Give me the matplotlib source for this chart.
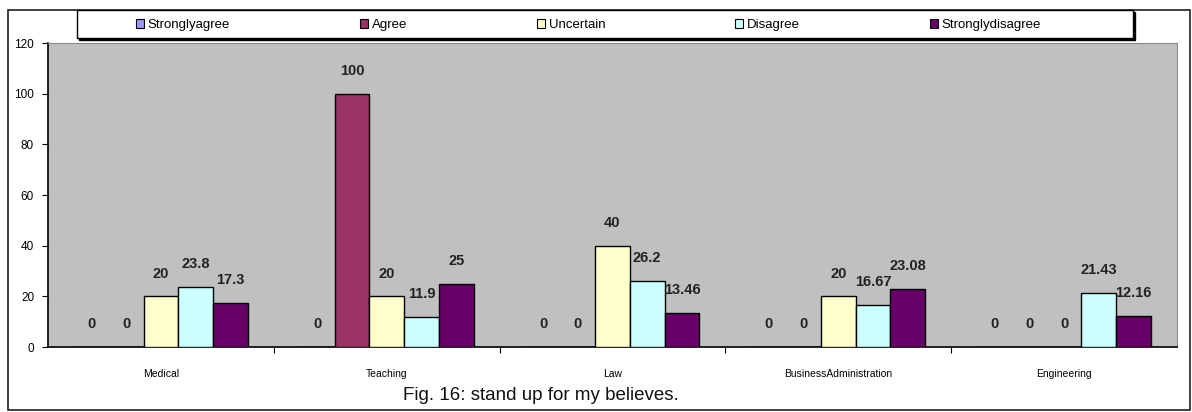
import matplotlib
matplotlib.use('Agg')
import matplotlib.pyplot as plt
from matplotlib.patches import Rectangle, Patch
import numpy as np

# data
categories = ['Medical', 'Teaching', 'Law', 'BusinessAdministration', 'Engineering']
series_names = ['Stronglyagree', 'Agree', 'Uncertain', 'Disagree', 'Stronglydisagree']
strongly_agree = [0, 0, 0, 0, 0]
agree = [0, 100, 0, 0, 0]
uncertain = [20, 20, 40, 20, 0]
disagree = [23.8, 11.9, 26.2, 16.67, 21.43]
strongly_disagree = [17.3, 25, 13.46, 23.08, 12.16]
label_text = [
    ['0', '0', '0', '0', '0'],
    ['0', '100', '0', '0', '0'],
    ['20', '20', '40', '20', '0'],
    ['23.8', '11.9', '26.2', '16.67', '21.43'],
    ['17.3', '25', '13.46', '23.08', '12.16'],
]
colors = ['#9999FF', '#993366', '#FFFFCC', '#CCFFFF', '#660066']

plt.rcParams['font.family'] = ['Liberation Sans', 'DejaVu Sans']

fig = plt.figure(figsize=(11.92, 4.12), dpi=100)
fig.patch.set_facecolor('white')

# outer chart border
fig.patches.append(Rectangle((8 / 1192, 2 / 412), 1182 / 1192, 400 / 412,
                             transform=fig.transFigure, fill=False,
                             edgecolor='#202020', linewidth=1.2))

ax = fig.add_axes([48 / 1192, 65 / 412, 1129 / 1192, 304 / 412])
ax.set_facecolor('#C0C0C0')

values = [strongly_agree, agree, uncertain, disagree, strongly_disagree]
n_cat = len(categories)
n_ser = len(values)
x = np.arange(n_cat)
bw = 1.0 / (n_ser + 1.5)

for i, vals in enumerate(values):
    pos = x - 0.5 + 0.75 * bw + (i + 0.5) * bw
    ax.bar(pos, vals, width=bw, color=colors[i], edgecolor='black',
           linewidth=1.0, zorder=3)
    for j, v in enumerate(vals):
        ax.text(pos[j], v + 9, label_text[i][j], ha='center', va='center',
                fontsize=10.5, fontweight='bold', color='#222222', zorder=4)

ax.set_xlim(-0.5, n_cat - 0.5)
ax.set_ylim(0, 120)
ax.set_yticks(np.arange(0, 121, 20))
ax.tick_params(axis='y', labelsize=8.5, length=4, direction='out', pad=6)
ax.set_xticks(x[:-1] + 0.5)
ax.set_xticklabels([])
ax.set_xticks(x, minor=True)
ax.set_xticklabels(categories, minor=True, fontsize=7.5)
ax.tick_params(axis='x', which='major', length=4, direction='out')
ax.tick_params(axis='x', which='minor', length=0, pad=16)

for s in ['top', 'right']:
    ax.spines[s].set_color('#8A8A8A')
ax.spines['left'].set_color('black')
ax.spines['bottom'].set_color('black')
ax.spines['left'].set_linewidth(1.2)
ax.spines['bottom'].set_linewidth(1.2)

# legend box with dark shadow
fig.patches.append(Rectangle((79 / 1192, (412 - 40) / 412), 1056 / 1192, 28 / 412,
                             transform=fig.transFigure, facecolor='black',
                             edgecolor='black'))
fig.patches.append(Rectangle((77 / 1192, (412 - 38) / 412), 1056 / 1192, 28 / 412,
                             transform=fig.transFigure, facecolor='white',
                             edgecolor='black', linewidth=1.0))
handles = [Patch(facecolor=c, edgecolor='black', linewidth=0.8) for c in colors]
fig.legend(handles, series_names, loc='center left', ncol=5, mode='expand',
           bbox_to_anchor=(136 / 1192, (412 - 25) / 412, 905 / 1192, 0.0),
           frameon=False, fontsize=9.5, handlelength=0.6, handleheight=0.6,
           handletextpad=0.3, borderaxespad=0, borderpad=0)

fig.text(541 / 1192, 17 / 412, 'Fig. 16: stand up for my believes.',
         ha='center', va='center', fontsize=13.5, color='#111111')

fig.savefig('out.png', dpi=100)
